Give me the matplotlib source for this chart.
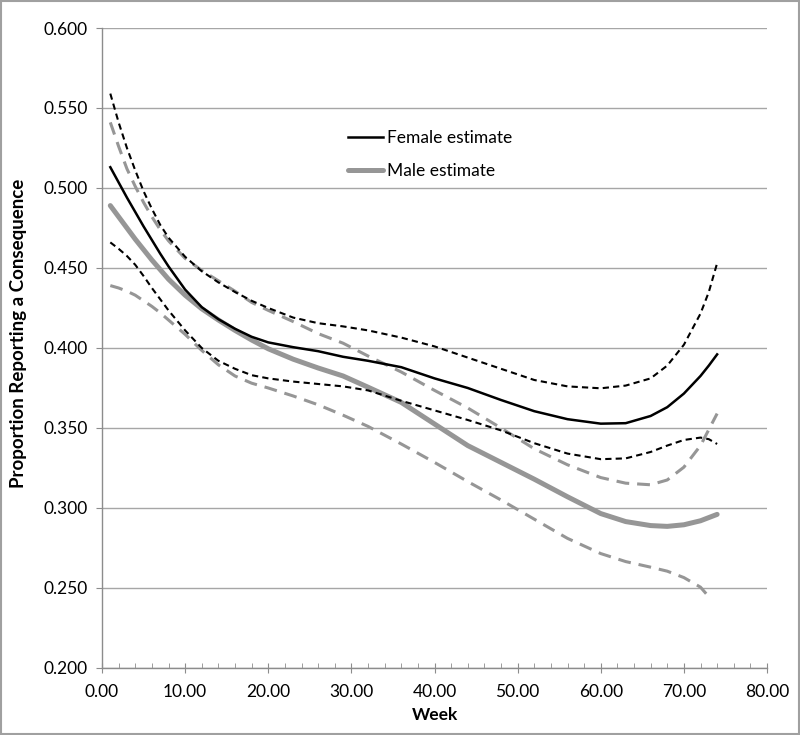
import numpy as np
import matplotlib.pyplot as plt
from matplotlib.patches import Rectangle
from matplotlib.ticker import MultipleLocator, FormatStrFormatter

plt.rcParams['font.family'] = ['Lato', 'DejaVu Sans']

# values
weeks = [1, 2, 3, 4, 5, 6, 7, 8, 10, 12, 14, 16, 18, 20, 23, 26, 29, 32, 36,
         40, 44, 48, 52, 56, 60, 63, 66, 68, 70, 72, 73, 74]

female_est = [0.513, 0.5035, 0.494, 0.485, 0.476, 0.4675, 0.459, 0.451, 0.4365,
              0.4255, 0.418, 0.412, 0.407, 0.4035, 0.4005, 0.398, 0.3945, 0.392,
              0.388, 0.381, 0.375, 0.3675, 0.3605, 0.3555, 0.3527, 0.353,
              0.3575, 0.363, 0.3715, 0.3825, 0.389, 0.396]
female_hi = [0.559, 0.541, 0.525, 0.511, 0.498, 0.487, 0.477, 0.469, 0.457,
             0.448, 0.441, 0.435, 0.4295, 0.425, 0.419, 0.4155, 0.4135, 0.411,
             0.4065, 0.401, 0.394, 0.387, 0.380, 0.376, 0.3748, 0.3765, 0.381,
             0.389, 0.402, 0.4215, 0.435, 0.453]
female_lo = [0.466, 0.462, 0.4575, 0.452, 0.445, 0.4375, 0.4305, 0.4235, 0.411,
             0.400, 0.392, 0.387, 0.383, 0.381, 0.379, 0.3775, 0.376, 0.3735,
             0.367, 0.361, 0.355, 0.3485, 0.3405, 0.334, 0.3305, 0.331, 0.335,
             0.339, 0.3425, 0.344, 0.343, 0.340]

male_est = [0.489, 0.482, 0.475, 0.468, 0.4615, 0.455, 0.449, 0.443, 0.433,
            0.4245, 0.4175, 0.411, 0.405, 0.3995, 0.393, 0.3875, 0.3825,
            0.3755, 0.366, 0.3525, 0.339, 0.3285, 0.318, 0.307, 0.2965,
            0.2915, 0.289, 0.2885, 0.2895, 0.292, 0.294, 0.296]
male_hi = [0.541, 0.526, 0.512, 0.501, 0.491, 0.482, 0.474, 0.467, 0.456,
           0.4485, 0.442, 0.4355, 0.4285, 0.4235, 0.4165, 0.409, 0.403, 0.395,
           0.385, 0.3735, 0.3625, 0.350, 0.337, 0.327, 0.319, 0.3155, 0.3145,
           0.3175, 0.3255, 0.339, 0.349, 0.359]

# the lower male band stops one week earlier
weeks_male_lo = weeks[:-1]
male_lo = [0.439, 0.4375, 0.4355, 0.433, 0.4295, 0.426, 0.422, 0.4175, 0.4085,
           0.3985, 0.3895, 0.3825, 0.378, 0.375, 0.370, 0.3645, 0.358, 0.351,
           0.340, 0.3285, 0.3165, 0.305, 0.293, 0.281, 0.2715, 0.2665, 0.263,
           0.2605, 0.2565, 0.2505, 0.2445]

black = '#000000'
gray = '#969696'

fig = plt.figure(figsize=(8, 7.35), dpi=100)
ax = fig.add_axes([0.1275, 0.0912, 0.83125, 0.8707])

# confidence bands
ax.plot(weeks, female_hi, color=black, lw=1.5, dashes=(3, 2), zorder=3)
ax.plot(weeks, female_lo, color=black, lw=1.5, dashes=(3, 2), zorder=3)
ax.plot(weeks, male_hi, color=gray, lw=2.2, dashes=(4.2, 2.6), zorder=2)
ax.plot(weeks_male_lo, male_lo, color=gray, lw=2.2, dashes=(4.2, 2.6), zorder=2)

# estimates
ax.plot(weeks, female_est, color=black, lw=1.8, zorder=4, label='Female estimate')
ax.plot(weeks, male_est, color=gray, lw=3.6, zorder=2, label='Male estimate',
        solid_capstyle='round')

ax.set_xlim(0, 80)
ax.set_ylim(0.2, 0.6)
ax.xaxis.set_major_locator(MultipleLocator(10))
ax.xaxis.set_minor_locator(MultipleLocator(2))
ax.yaxis.set_major_locator(MultipleLocator(0.05))
ax.xaxis.set_major_formatter(FormatStrFormatter('%.2f'))
ax.yaxis.set_major_formatter(FormatStrFormatter('%.3f'))

ax.grid(axis='y', color='#a6a6a6', lw=1.0)
ax.set_axisbelow(True)
for s in ['top', 'right']:
    ax.spines[s].set_visible(False)
for s in ['left', 'bottom']:
    ax.spines[s].set_color('#8c8c8c')
    ax.spines[s].set_linewidth(1.0)

ax.tick_params(axis='x', which='major', direction='inout', length=7,
               color='#8c8c8c', labelsize=12.5, pad=8)
ax.tick_params(axis='x', which='minor', direction='in', length=3.5,
               color='#8c8c8c')
ax.tick_params(axis='y', which='major', direction='out', length=4,
               color='#8c8c8c', labelsize=12.5, pad=6)

ax.set_xlabel('Week', fontsize=12.5, fontweight='bold', labelpad=5)
ax.set_ylabel('Proportion Reporting a Consequence', fontsize=13.5,
              fontweight='bold')
ax.yaxis.set_label_coords(-0.113, 0.523)

ax.legend(loc='upper left', bbox_to_anchor=(0.37, 0.841), frameon=False,
          fontsize=12.5, handlelength=2.0, handletextpad=0.25,
          labelspacing=1.0, borderpad=0, borderaxespad=0)

fig.patches.append(Rectangle((0.001, 0.001), 0.998, 0.998, transform=fig.transFigure,
                             fill=False, edgecolor='#a0a0a0', lw=1.5))

fig.savefig('out.png', dpi=100)
